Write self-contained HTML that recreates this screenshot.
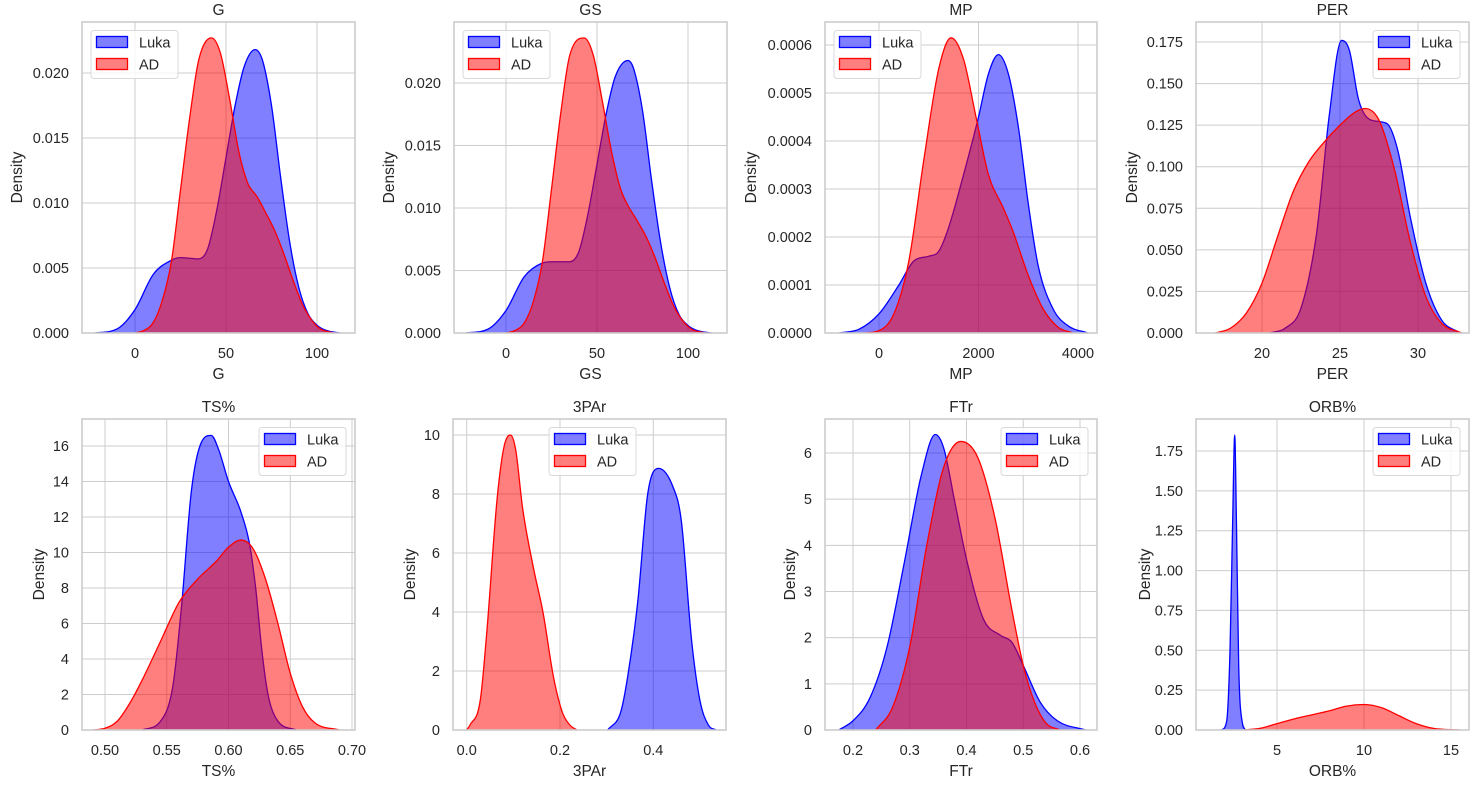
<!DOCTYPE html>
<html><head><meta charset="utf-8"><style>
html,body{margin:0;padding:0;background:#fff;}
svg{display:block;font-family:"Liberation Sans",Arial,sans-serif;}
</style></head><body>
<svg id="chart" width="1479" height="792" viewBox="0 0 1479 792" xmlns="http://www.w3.org/2000/svg"></svg>
<script>
// ---- data ----
const seriesNames = ["Luka", "AD"];
const gX_luka = [-22,-10,0,10,20,25,35,40,45,50,55,60,66,70,75,80,85,90,95,100,105,113];
const gY_luka = [0,0.0003,0.0018,0.0045,0.0056,0.0058,0.0057,0.0065,0.0095,0.0135,0.0175,0.0205,0.0218,0.0210,0.0175,0.0120,0.0070,0.0035,0.0015,0.0006,0.0002,0];
const gX_ad = [0,5,10,15,20,25,30,35,42,47,52,57,62,67,72,77,82,87,92,97,102,110];
const gY_ad = [0,0.0002,0.0008,0.0025,0.0055,0.0110,0.0165,0.0210,0.0227,0.0215,0.0180,0.0140,0.0115,0.0105,0.0092,0.0078,0.0060,0.0040,0.0022,0.0010,0.0003,0];
const gsX_luka = [-22,-10,0,10,20,25,35,40,45,50,55,60,67,70,75,80,85,90,95,100,105,113];
const gsY_luka = [0,0.0003,0.0018,0.0045,0.0056,0.0057,0.0057,0.0065,0.0095,0.0135,0.0175,0.0205,0.0218,0.0212,0.0178,0.0122,0.0072,0.0036,0.0015,0.0006,0.0002,0];
const gsX_ad = [0,5,10,15,20,25,30,35,43,48,53,58,63,67,72,77,82,87,92,97,102,110];
const gsY_ad = [0,0.0002,0.0008,0.0025,0.0057,0.0115,0.0175,0.0222,0.0236,0.0222,0.0185,0.0145,0.0115,0.0102,0.0090,0.0077,0.0060,0.0040,0.0022,0.0010,0.0003,0];
const mpX_luka = [-800,-400,0,400,700,1000,1200,1400,1700,2000,2200,2400,2600,2800,3000,3200,3500,3800,4200];
const mpY_luka = [0,0.000008,0.00004,0.0001,0.00015,0.00016,0.00017,0.00022,0.00033,0.00045,0.00054,0.00058,0.00054,0.00043,0.00027,0.00014,0.00005,0.000015,0];
const mpX_ad = [-300,0,300,600,900,1200,1450,1700,1950,2200,2500,2700,3000,3300,3600,3900];
const mpY_ad = [0,0.000005,0.00004,0.00015,0.00036,0.00055,0.000615,0.00057,0.00045,0.00033,0.00026,0.00021,0.00012,0.00005,0.000012,0];
const perX_luka = [20.5,21.5,22.5,23.5,24.3,25.1,25.6,26.2,27,28,28.7,29.5,30.5,31.5,32.7];
const perY_luka = [0,0.003,0.015,0.06,0.13,0.176,0.170,0.14,0.128,0.126,0.11,0.07,0.03,0.008,0];
const perX_ad = [17,18,19,20,21,22,23,24,25,26,26.6,27.5,28.5,29.5,30.5,31.5,32.8];
const perY_ad = [0,0.003,0.012,0.030,0.058,0.085,0.103,0.115,0.125,0.133,0.135,0.128,0.098,0.055,0.022,0.006,0];
const tsX_luka = [0.53,0.545,0.555,0.562,0.57,0.578,0.586,0.592,0.60,0.61,0.617,0.622,0.627,0.632,0.64,0.655];
const tsY_luka = [0,0.5,2.5,7,13.5,16.2,16.6,15.8,14,12.3,10.5,8,4.5,2,0.5,0];
const tsX_ad = [0.49,0.50,0.51,0.52,0.53,0.545,0.56,0.575,0.59,0.60,0.61,0.62,0.63,0.64,0.65,0.66,0.67,0.69];
const tsY_ad = [0,0.1,0.5,1.5,2.8,5,7.2,8.5,9.5,10.3,10.7,10.2,8.5,6,3.2,1.3,0.4,0];
const parX_luka = [0.302,0.33,0.345,0.367,0.388,0.411,0.442,0.46,0.482,0.5,0.518,0.535];
const parY_luka = [0,0.6,1.8,4.4,8.0,8.87,8.25,7.1,3.05,1.0,0.17,0];
const parX_ad = [0,0.007,0.029,0.043,0.065,0.08,0.094,0.105,0.12,0.143,0.164,0.186,0.205,0.221,0.236];
const parY_ad = [0,0.17,1.0,3.3,7.8,9.6,10.0,9.5,7.5,5.5,3.95,1.8,0.6,0.17,0];
const ftrX_luka = [0.175,0.2,0.23,0.26,0.29,0.32,0.345,0.36,0.38,0.40,0.43,0.46,0.48,0.50,0.53,0.56,0.61];
const ftrY_luka = [0,0.2,0.7,1.8,3.6,5.5,6.4,6.1,4.9,3.7,2.4,2.05,1.9,1.4,0.6,0.2,0];
const ftrX_ad = [0.24,0.27,0.30,0.33,0.36,0.39,0.42,0.45,0.48,0.50,0.52,0.54,0.565];
const ftrY_ad = [0,0.5,1.8,4,5.7,6.25,5.9,4.6,2.6,1.4,0.6,0.15,0];
const orbX_luka = [1.8,2.1,2.3,2.45,2.57,2.67,2.8,3.0,3.2];
const orbY_luka = [0,0.05,0.5,1.3,1.85,1.3,0.4,0.05,0];
const orbX_ad = [3,4,5,6,7,8,9,10,11,12,13,14,15.5];
const orbY_ad = [0,0.01,0.04,0.07,0.095,0.12,0.15,0.16,0.14,0.09,0.04,0.01,0];

const gXTicks=[0,50,100], gYTicks=[0,0.005,0.010,0.015,0.020], gYLabels=["0.000","0.005","0.010","0.015","0.020"];
const mpXTicks=[0,2000,4000], mpYTicks=[0,0.0001,0.0002,0.0003,0.0004,0.0005,0.0006], mpYLabels=["0.0000","0.0001","0.0002","0.0003","0.0004","0.0005","0.0006"];
const perXTicks=[20,25,30], perYTicks=[0,0.025,0.05,0.075,0.1,0.125,0.15,0.175], perYLabels=["0.000","0.025","0.050","0.075","0.100","0.125","0.150","0.175"];
const tsXTicks=[0.5,0.55,0.6,0.65,0.7], tsXLabels=["0.50","0.55","0.60","0.65","0.70"], tsYTicks=[0,2,4,6,8,10,12,14,16];
const parXTicks=[0,0.2,0.4], parXLabels=["0.0","0.2","0.4"], parYTicks=[0,2,4,6,8,10];
const ftrXTicks=[0.2,0.3,0.4,0.5,0.6], ftrXLabels=["0.2","0.3","0.4","0.5","0.6"], ftrYTicks=[0,1,2,3,4,5,6];
const orbXTicks=[5,10,15], orbYTicks=[0,0.25,0.5,0.75,1,1.25,1.5,1.75], orbYLabels=["0.00","0.25","0.50","0.75","1.00","1.25","1.50","1.75"];

// ---- layout (positions, not data) ----
const panels = [
 {key:"g",title:"G",box:[82,22,273,311],xc:[0,135,100,317],yc:[0,333,0.02,73],xs:[gX_luka,gY_luka,gX_ad,gY_ad],xt:gXTicks,xl:null,yt:gYTicks,yl:gYLabels,leg:"left",ylx:17},
 {key:"gs",title:"GS",box:[454,22,273,311],xc:[0,506,100,688],yc:[0,333,0.02,83],xs:[gsX_luka,gsY_luka,gsX_ad,gsY_ad],xt:gXTicks,xl:null,yt:gYTicks,yl:gYLabels,leg:"left",ylx:389},
 {key:"mp",title:"MP",box:[825,22,272,311],xc:[0,879,4000,1078],yc:[0,333,0.0006,45],xs:[mpX_luka,mpY_luka,mpX_ad,mpY_ad],xt:mpXTicks,xl:null,yt:mpYTicks,yl:mpYLabels,leg:"left",ylx:751},
 {key:"per",title:"PER",box:[1196,22,273,311],xc:[20,1262,30,1418],yc:[0,333,0.175,42],xs:[perX_luka,perY_luka,perX_ad,perY_ad],xt:perXTicks,xl:null,yt:perYTicks,yl:perYLabels,leg:"right",ylx:1132},
 {key:"ts",title:"TS%",box:[82,419,273,311],xc:[0.5,105,0.7,352],yc:[0,730,16,446],xs:[tsX_luka,tsY_luka,tsX_ad,tsY_ad],xt:tsXTicks,xl:tsXLabels,yt:tsYTicks,yl:null,leg:"right",ylx:39},
 {key:"3par",title:"3PAr",box:[453,419,273,311],xc:[0,466.7,0.4,653.3],yc:[0,730,10,435],xs:[parX_luka,parY_luka,parX_ad,parY_ad],xt:parXTicks,xl:parXLabels,yt:parYTicks,yl:null,leg:"center",ylx:410},
 {key:"ftr",title:"FTr",box:[825,419,272,311],xc:[0.2,853,0.6,1080],yc:[0,730,6,453],xs:[ftrX_luka,ftrY_luka,ftrX_ad,ftrY_ad],xt:ftrXTicks,xl:ftrXLabels,yt:ftrYTicks,yl:null,leg:"right",ylx:790},
 {key:"orb",title:"ORB%",box:[1196,419,273,311],xc:[5,1277,15,1451],yc:[0,730,1.75,451],xs:[orbX_luka,orbY_luka,orbX_ad,orbY_ad],xt:orbXTicks,xl:null,yt:orbYTicks,yl:orbYLabels,leg:"right",ylx:1145}
];

const NS="http://www.w3.org/2000/svg";
const svg=document.getElementById("chart");
function mk(tag,attrs,parent){const e=document.createElementNS(NS,tag);for(const k in attrs)e.setAttribute(k,attrs[k]);(parent||svg).appendChild(e);return e;}
function lin(c){return v=>c[1]+(v-c[0])*(c[3]-c[1])/(c[2]-c[0]);}
function monoPath(px,py){
 const n=px.length;const d=[],m=[];
 for(let i=0;i<n-1;i++)d.push((py[i+1]-py[i])/(px[i+1]-px[i]));
 m[0]=d[0];m[n-1]=d[n-2];
 for(let i=1;i<n-1;i++){m[i]=(d[i-1]*d[i]<=0)?0:(d[i-1]+d[i])/2;}
 for(let i=0;i<n-1;i++){if(d[i]===0){m[i]=0;m[i+1]=0;continue;}const a=m[i]/d[i],b=m[i+1]/d[i];const s=a*a+b*b;if(s>9){const t=3/Math.sqrt(s);m[i]=t*a*d[i];m[i+1]=t*b*d[i];}}
 let p="M"+px[0].toFixed(2)+","+py[0].toFixed(2);
 for(let i=0;i<n-1;i++){const h=px[i+1]-px[i];p+=" C"+(px[i]+h/3).toFixed(2)+","+(py[i]+m[i]*h/3).toFixed(2)+" "+(px[i+1]-h/3).toFixed(2)+","+(py[i+1]-m[i+1]*h/3).toFixed(2)+" "+px[i+1].toFixed(2)+","+py[i+1].toFixed(2);}
 return p;
}
const txtColor="#262626";
panels.forEach(P=>{
 const [L,T,W,H]=P.box;const sx=lin(P.xc), sy=lin(P.yc);
 const g=mk("g",{});
 
 
 mk("rect",{x:L,y:T,width:W,height:H,fill:"#fff"},g);
 const clipId="clip-"+P.key;
 const cp=mk("clipPath",{id:clipId},g);mk("rect",{x:L,y:T,width:W,height:H},cp);
 P.xt.forEach((v,i)=>{const x=sx(v);
  const gl=mk("line",{x1:x,x2:x,y1:T,y2:T+H,stroke:"#cccccc","stroke-width":1},g);
  
  
  const t=mk("text",{x:x,y:T+H+25,"text-anchor":"middle","font-size":"14.5",fill:txtColor},g);
  t.textContent=P.xl?P.xl[i]:String(v);
  
  
 });
 P.yt.forEach((v,i)=>{const y=sy(v);
  const gl=mk("line",{x1:L,x2:L+W,y1:y,y2:y,stroke:"#cccccc","stroke-width":1},g);
  
  
  const t=mk("text",{x:L-13,y:y+5,"text-anchor":"end","font-size":"14.5",fill:txtColor},g);
  t.textContent=P.yl?P.yl[i]:String(v);
  
  
 });
 const cols=["#0000ff","#ff0000"];
 for(let s=0;s<2;s++){
  const xs=P.xs[s*2],ys=P.xs[s*2+1];
  const px=xs.map(sx),py=ys.map(sy);
  const line=monoPath(px,py);
  const base=sy(0);
  const area=mk("path",{d:line+" L"+px[px.length-1]+","+base+" L"+px[0]+","+base+" Z",fill:cols[s],"fill-opacity":0.5,stroke:"none","clip-path":"url(#"+clipId+")"},g);
  
  
  const ln=mk("path",{d:line,fill:"none",stroke:cols[s],"stroke-width":1.3,"clip-path":"url(#"+clipId+")"},g);
  
  
 }
 const sp=mk("rect",{x:L,y:T,width:W,height:H,fill:"none",stroke:"#cccccc","stroke-width":1.6},g);
 
 
 const tt=mk("text",{x:L+W/2,y:T-7,"text-anchor":"middle","font-size":"15.5",fill:txtColor},g);
 tt.textContent=P.title;
 
 
 const xlab=mk("text",{x:L+W/2,y:T+H+46,"text-anchor":"middle","font-size":"15.5",fill:txtColor},g);
 xlab.textContent=P.title;
 
 
 const ylab=mk("text",{x:P.ylx,y:T+H/2,"text-anchor":"middle","font-size":"15.5",fill:txtColor,transform:"rotate(-90 "+P.ylx+" "+(T+H/2)+") translate(0 5)"},g);
 ylab.textContent="Density";
 
 
 // legend
 const lw=87,lh=48;
 let lx=P.leg==="left"?L+9:(P.leg==="right"?L+W-9-lw:L+W/2-lw/2+3);
 const ly=T+8.5;
 const lg=mk("g",{},g);
 
 
 mk("rect",{x:lx,y:ly,width:lw,height:lh,rx:3,fill:"#fff","fill-opacity":0.8,stroke:"#d9d9d9","stroke-width":1},lg);
 for(let s=0;s<2;s++){
  const e=mk("g",{},lg);
  
  
  mk("rect",{x:lx+5.5,y:ly+6+s*22,width:31,height:11,fill:cols[s],"fill-opacity":0.5,stroke:cols[s],"stroke-width":1.3},e);
  const t=mk("text",{x:lx+48,y:ly+17+s*22,"font-size":"14.5",fill:txtColor},e);
  t.textContent=seriesNames[s];
 }
});
</script>
</body></html>
